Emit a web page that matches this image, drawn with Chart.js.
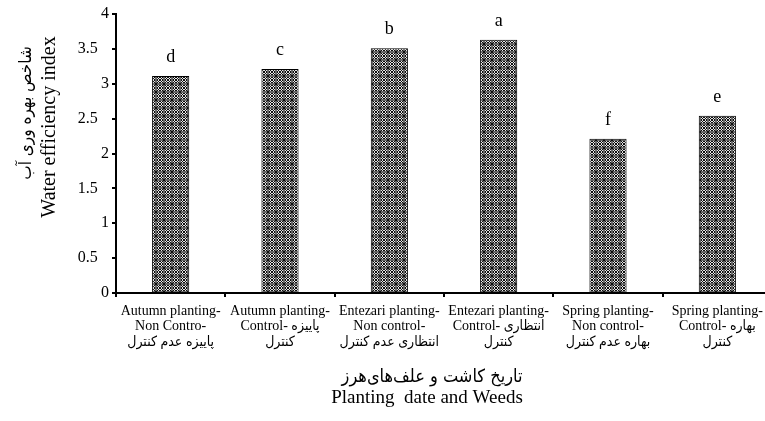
<!DOCTYPE html>
<html>
<head>
<meta charset="utf-8">
<script src="https://cdn.jsdelivr.net/npm/chart.js@4/dist/chart.umd.min.js"></script>
<style>
  html, body { margin: 0; padding: 0; background: #fff; overflow: hidden; }
  #wrap { width: 775px; height: 421px; }
</style>
</head>
<body>
<div id="wrap"><canvas id="barChart" width="775" height="421"></canvas></div>
<script>
// categories (multi-line labels), values and the significance letters
const categories = [
    ['Autumn planting-', 'Non Contro-', 'پاییزه عدم کنترل'],
    ['Autumn planting-', 'Control- پاییزه', 'کنترل'],
    ['Entezari planting-', 'Non control-', 'انتظاری عدم کنترل'],
    ['Entezari planting-', 'Control- انتظاری', 'کنترل'],
    ['Spring planting-', 'Non control-', 'بهاره عدم کنترل'],
    ['Spring planting-', 'Control- بهاره', 'کنترل']
];
const efficiency = [3.11, 3.21, 3.51, 3.63, 2.21, 2.54];
const letters = ['d', 'c', 'b', 'a', 'f', 'e'];
const yTicks = [0, 0.5, 1, 1.5, 2, 2.5, 3, 3.5, 4];

const yTitle = ['شاخص بهره وری آب', 'Water efficiency index'];
const xTitle = ['تاریخ کاشت و علف‌های‌هرز', 'Planting  date and Weeds'];

const serif = '"Liberation Serif", "Times New Roman", "DejaVu Sans Condensed", "DejaVu Sans", serif';
const arabic = '"DejaVu Sans Condensed", "DejaVu Sans", sans-serif';

// hatch-like fill similar to the spreadsheet pattern
function makePattern() {
    const rows = [
        'KWKGGKWK',
        'WKWGGWKW',
        'KWKGGKWK',
        'GGGKKGGG',
        'GGGKKGGG',
        'KWKGGKWK',
        'WKWGGWKW',
        'KWKGGKWK'
    ];
    const colors = { K: '#0d0d0d', W: '#e6e6e6', G: '#676767' };
    const c = document.createElement('canvas');
    c.width = 8;
    c.height = 8;
    const g = c.getContext('2d');
    rows.forEach(function (row, y) {
        for (let x = 0; x < row.length; x++) {
            g.fillStyle = colors[row[x]];
            g.fillRect(x, y, 1, 1);
        }
    });
    return g.createPattern(c, 'repeat');
}

const labelPlugin = {
    id: 'labels',
    afterDatasetsDraw(chart) {
        const ctx = chart.ctx;
        const meta = chart.getDatasetMeta(0);
        ctx.save();
        ctx.fillStyle = '#000';
        ctx.font = '18px ' + serif;
        ctx.textAlign = 'center';
        ctx.textBaseline = 'alphabetic';
        meta.data.forEach(function (bar, i) {
            ctx.fillText(letters[i], bar.x, bar.y - 14);
        });
        ctx.restore();
    },
    afterDraw(chart) {
        const ctx = chart.ctx;
        ctx.save();
        ctx.fillStyle = '#000';
        ctx.textBaseline = 'middle';
        ctx.textAlign = 'center';
        // y title, rotated, two lines
        ctx.save();
        ctx.translate(27, 113);
        ctx.rotate(-Math.PI / 2);
        ctx.font = '17px ' + arabic;
        ctx.fillText(yTitle[0], 0, 0);
        ctx.restore();
        ctx.save();
        ctx.translate(50, 127);
        ctx.rotate(-Math.PI / 2);
        ctx.font = '20px ' + serif;
        ctx.fillText(yTitle[1], 0, 0);
        ctx.restore();
        // x title, two lines
        ctx.font = '18px ' + arabic;
        ctx.fillText(xTitle[0], 432, 377);
        ctx.font = '19px ' + serif;
        ctx.fillText(xTitle[1], 427, 398);
        ctx.restore();
    }
};

const barChart = document.getElementById('barChart');
const barChartVar = new Chart(barChart, {
    type: 'bar',
    data: {
        labels: categories,
        datasets: [
            {
                data: efficiency,
                backgroundColor: makePattern(),
                borderColor: '#000',
                borderWidth: 1,
                barPercentage: 0.34,
                categoryPercentage: 1
            }
        ]
    },
    options: {
        responsive: false,
        animation: false,
        layout: {
            padding: { top: 14, right: 3, left: 0, bottom: 0 }
        },
        plugins: {
            legend: { display: false },
            tooltip: { enabled: false }
        },
        scales: {
            x: {
                afterFit: function (scale) { scale.height = 128; },
                border: { color: '#000', width: 2 },
                grid: {
                    drawOnChartArea: false,
                    color: '#000',
                    lineWidth: 2,
                    tickLength: 4
                },
                ticks: {
                    color: '#000',
                    maxRotation: 0,
                    autoSkip: false,
                    padding: 6,
                    font: { family: serif, size: 14, lineHeight: 1.12 }
                }
            },
            y: {
                min: 0,
                max: 4,
                afterFit: function (scale) { scale.width = 116; },
                afterBuildTicks: function (scale) {
                    scale.ticks = yTicks.map(function (v) { return { value: v }; });
                },
                border: { color: '#000', width: 2 },
                grid: {
                    drawOnChartArea: false,
                    color: '#000',
                    lineWidth: 2,
                    tickLength: 4
                },
                ticks: {
                    color: '#000',
                    padding: 3,
                    font: { family: serif, size: 16 },
                    callback: function (value) {
                        // decimals sit a little left of the whole numbers
                        return Number.isInteger(value) ? String(value) : String(value) + '\u2002\u2009';
                    }
                }
            }
        }
    },
    plugins: [labelPlugin]
});
</script>
</body>
</html>
